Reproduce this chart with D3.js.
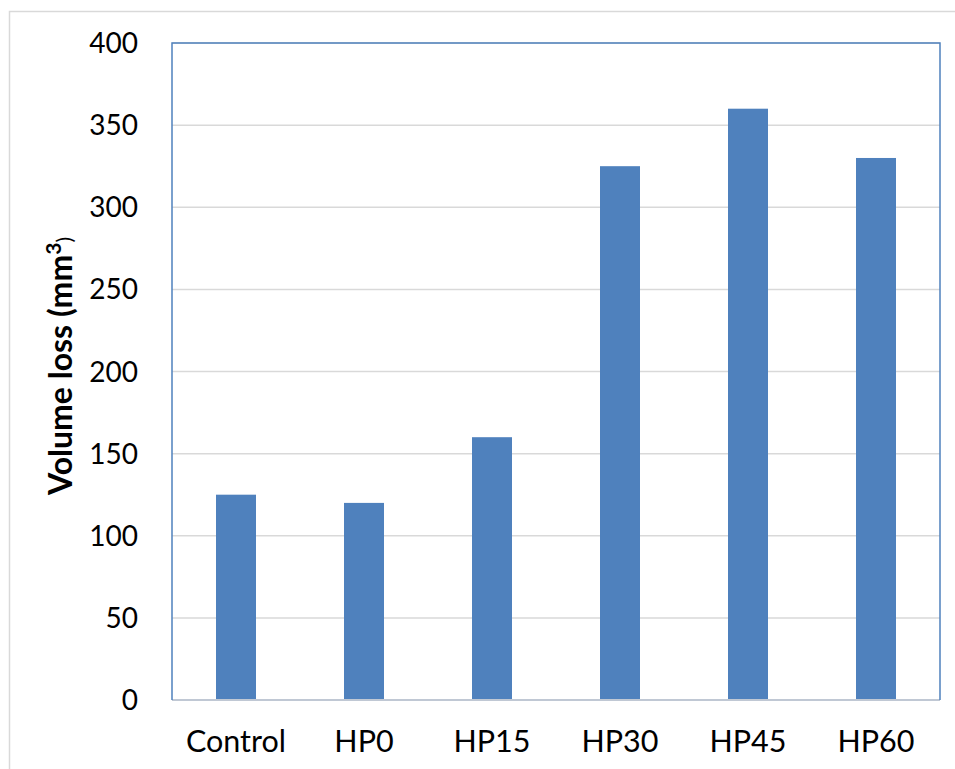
<!DOCTYPE html>
<html>
<head>
<meta charset="utf-8">
<script src="https://cdn.jsdelivr.net/npm/d3@7"></script>
<style>
  body { margin: 0; background: #fff; }
  text { font-family: Lato, "Open Sans", sans-serif; }
</style>
</head>
<body>
<div id="chart"></div>
<script>
// volume loss per sample
const categories = ["Control", "HP0", "HP15", "HP30", "HP45", "HP60"];
const volumeLoss = [125, 120, 160, 325, 360, 330];
const yTicks = [0, 50, 100, 150, 200, 250, 300, 350, 400];

const width = 955, height = 769;
const margin = { top: 43, right: 15, bottom: 69, left: 172 };

const svg = d3.select("#chart")
  .append("svg")
  .attr("width", width)
  .attr("height", height);

// outer chart frame
svg.append("rect")
  .attr("x", 9.5)
  .attr("y", 11.5)
  .attr("width", width + 20)
  .attr("height", height + 20)
  .attr("fill", "none")
  .attr("stroke", "#d9d9d9")
  .attr("stroke-width", 1.5);

const x = d3.scaleBand()
  .domain(categories)
  .range([margin.left, width - margin.right])
  .paddingInner(0.6875)
  .paddingOuter(0.34375);

const y = d3.scaleLinear()
  .domain([0, 400])
  .range([height - margin.bottom, margin.top]);

// gridlines
svg.append("g")
  .selectAll("line")
  .data(yTicks.slice(1))
  .join("line")
  .attr("x1", margin.left)
  .attr("x2", width - margin.right)
  .attr("y1", d => y(d))
  .attr("y2", d => y(d))
  .attr("stroke", "#d9d9d9")
  .attr("stroke-width", 1.5);

// bars
svg.append("g")
  .attr("fill", "#4f81bd")
  .selectAll("rect")
  .data(volumeLoss)
  .join("rect")
  .attr("x", (d, i) => x(categories[i]))
  .attr("y", d => y(d))
  .attr("width", x.bandwidth())
  .attr("height", d => y(0) - y(d));

// bottom axis line
svg.append("line")
  .attr("x1", margin.left)
  .attr("x2", width - margin.right)
  .attr("y1", y(0))
  .attr("y2", y(0))
  .attr("stroke", "#c0c8d4")
  .attr("stroke-width", 2);

// plot border left, top, right
svg.append("path")
  .attr("d", `M${margin.left},${y(0)}V${margin.top}H${width - margin.right}V${y(0)}`)
  .attr("fill", "none")
  .attr("stroke", "#4f81bd")
  .attr("stroke-width", 1.5);

// y tick labels
svg.append("g")
  .attr("font-size", 28)
  .attr("text-anchor", "end")
  .selectAll("text")
  .data(yTicks)
  .join("text")
  .attr("x", 138)
  .attr("y", d => y(d) + 10)
  .attr("fill", "#000")
  .text(d => d);

// x labels
svg.append("g")
  .attr("font-size", 30.5)
  .attr("text-anchor", "middle")
  .selectAll("text")
  .data(categories)
  .join("text")
  .attr("x", d => x(d) + x.bandwidth() / 2)
  .attr("y", 752)
  .attr("fill", "#000")
  .text(d => d);

// y axis title
const title = svg.append("text")
  .attr("transform", "translate(72,366) rotate(-90)")
  .attr("text-anchor", "middle")
  .attr("font-size", 32)
  .attr("font-weight", "bold");
title.append("tspan").text("Volume loss (mm");
title.append("tspan").attr("font-size", 21).attr("dy", -11).text("3");
title.append("tspan").attr("font-size", 21).attr("font-weight", "normal").attr("dy", 11).text(")");
</script>
</body>
</html>
